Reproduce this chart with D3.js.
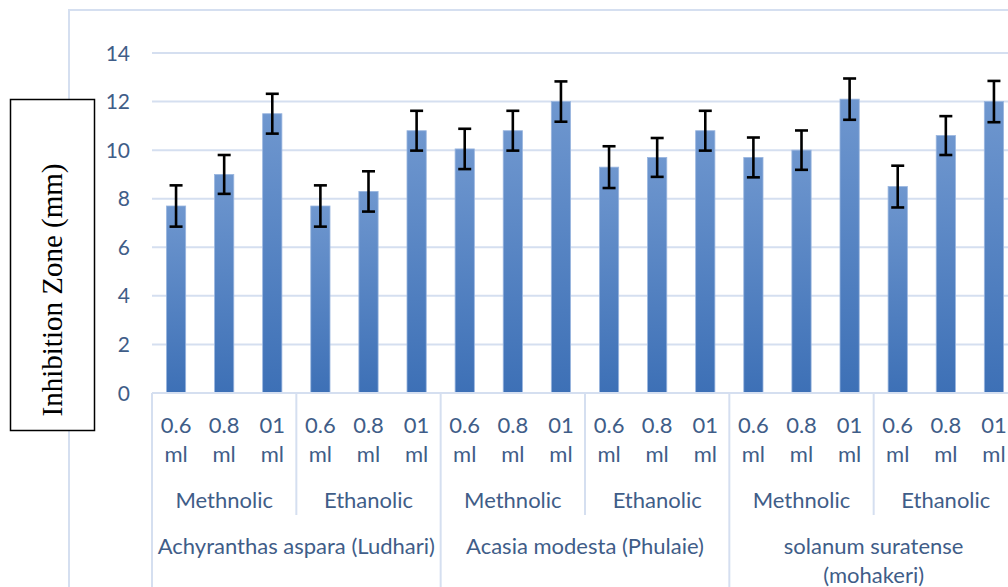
<!DOCTYPE html>
<html>
<head>
    <meta charset="utf-8">
    <title>Inhibition Zone</title>
    <script src="https://d3js.org/d3.v7.min.js"></script>
    <style>
        body {
            margin: 0;
            background: #ffffff;
            overflow: hidden;
        }
        .lbl {
            font-family: Lato, "Open Sans", sans-serif;
            fill: #3f5d88;
        }
    </style>
</head>
<body>
<div id="chart"></div>
<script>
    // data
    var plants = ["Achyranthas aspara (Ludhari)", "Acasia modesta (Phulaie)", "solanum suratense (mohakeri)"];
    var extracts = ["Methnolic", "Ethanolic"];
    var doses = ["0.6 ml", "0.8 ml", "01 ml"];
    var values = [7.7, 9.0, 11.5, 7.7, 8.3, 10.8,
                  10.05, 10.8, 12.0, 9.3, 9.7, 10.8,
                  9.7, 10.0, 12.1, 8.5, 10.6, 12.0];
    var errors = [0.85, 0.8, 0.82, 0.85, 0.83, 0.82,
                  0.83, 0.82, 0.83, 0.86, 0.8, 0.82,
                  0.82, 0.81, 0.85, 0.86, 0.8, 0.85];
    var yTicks = [0, 2, 4, 6, 8, 10, 12, 14];

    var W = 1008, H = 587;
    // plot area runs past the right edge of the picture (the reference is cropped)
    var plotLeft = 152, plotRight = 1018, plotTop = 53, plotBase = 393;
    var fs = "22px";

    // build the rows: plant > extract > dose
    var rows = [];
    plants.forEach(function (p, i) {
        extracts.forEach(function (e, j) {
            doses.forEach(function (d, k) {
                var n = i * 6 + j * 3 + k;
                rows.push({ id: n, plant: p, extract: e, dose: d, value: values[n], err: errors[n] });
            });
        });
    });

    var svg = d3.select("#chart").append("svg")
        .attr("width", W)
        .attr("height", H);

    var defs = svg.append("defs");
    var grad = defs.append("linearGradient")
        .attr("id", "barGrad")
        .attr("x1", 0).attr("y1", 0).attr("x2", 0).attr("y2", 1);
    grad.append("stop").attr("offset", "0%").attr("stop-color", "#6f97cf");
    grad.append("stop").attr("offset", "100%").attr("stop-color", "#3d70b6");

    var x = d3.scaleBand()
        .domain(rows.map(function (d) { return d.id; }))
        .range([plotLeft, plotRight])
        .paddingInner(0.6)
        .paddingOuter(0.3);
    var step = x.step();

    var y = d3.scaleLinear().domain([0, 14]).range([plotBase, plotTop]);

    var lineCol = "#d5dff0";

    // chart area border
    svg.append("rect")
        .attr("x", 69).attr("y", 10)
        .attr("width", 1200).attr("height", 800)
        .attr("fill", "none")
        .attr("stroke", lineCol)
        .attr("stroke-width", 2);

    // gridlines
    svg.append("g")
        .selectAll("line")
        .data(yTicks.filter(function (t) { return t > 0; }))
        .enter().append("line")
        .attr("x1", plotLeft).attr("x2", plotRight)
        .attr("y1", function (d) { return y(d); })
        .attr("y2", function (d) { return y(d); })
        .attr("stroke", lineCol)
        .attr("stroke-width", 2);

    // y axis tick labels
    svg.append("g")
        .selectAll("text")
        .data(yTicks)
        .enter().append("text")
        .attr("class", "lbl")
        .attr("x", 130)
        .attr("y", function (d) { return y(d) + 7.5; })
        .attr("text-anchor", "end")
        .style("font-size", "21px")
        .text(function (d) { return d; });

    // bars
    svg.append("g")
        .selectAll("rect")
        .data(rows)
        .enter().append("rect")
        .attr("x", function (d) { return x(d.id); })
        .attr("width", x.bandwidth())
        .attr("y", function (d) { return y(d.value); })
        .attr("height", function (d) { return plotBase - y(d.value); })
        .attr("fill", "url(#barGrad)")
        .attr("stroke", "#9ab6df")
        .attr("stroke-width", 0.8);

    // error bars
    var eb = svg.append("g")
        .selectAll("g")
        .data(rows)
        .enter().append("g")
        .attr("stroke", "#000")
        .attr("stroke-width", 2.6);
    function cx(d) { return x(d.id) + x.bandwidth() / 2; }
    eb.append("line")
        .attr("x1", cx).attr("x2", cx)
        .attr("y1", function (d) { return y(d.value + d.err); })
        .attr("y2", function (d) { return y(d.value - d.err); });
    eb.append("line")
        .attr("x1", function (d) { return cx(d) - 6.5; })
        .attr("x2", function (d) { return cx(d) + 6.5; })
        .attr("y1", function (d) { return y(d.value + d.err); })
        .attr("y2", function (d) { return y(d.value + d.err); });
    eb.append("line")
        .attr("x1", function (d) { return cx(d) - 6.5; })
        .attr("x2", function (d) { return cx(d) + 6.5; })
        .attr("y1", function (d) { return y(d.value - d.err); })
        .attr("y2", function (d) { return y(d.value - d.err); });

    // category axis
    var axisG = svg.append("g");
    axisG.append("line")
        .attr("x1", plotLeft).attr("x2", plotRight)
        .attr("y1", plotBase).attr("y2", plotBase)
        .attr("stroke", lineCol).attr("stroke-width", 2);

    // extract separators (short) and plant separators (full height)
    var extractEdges = d3.range(0, plants.length * extracts.length + 1).map(function (i) {
        return { pos: plotLeft + i * 3 * step, plant: i % 2 === 0 };
    });
    axisG.selectAll("line.sep")
        .data(extractEdges)
        .enter().append("line")
        .attr("class", "sep")
        .attr("x1", function (d) { return d.pos; })
        .attr("x2", function (d) { return d.pos; })
        .attr("y1", plotBase)
        .attr("y2", function (d) { return d.plant ? H + 5 : 515; })
        .attr("stroke", lineCol).attr("stroke-width", 2);

    // dose labels (wrapped on two lines)
    var doseT = axisG.selectAll("text.dose")
        .data(rows)
        .enter().append("text")
        .attr("class", "lbl dose")
        .attr("text-anchor", "middle")
        .style("font-size", fs);
    doseT.each(function (d) {
        var parts = d.dose.split(" ");
        var t = d3.select(this);
        parts.forEach(function (p, i) {
            t.append("tspan")
                .attr("x", cx(d))
                .attr("y", 433 + i * 28.5)
                .text(p);
        });
    });

    // extract labels
    var extractRows = [];
    plants.forEach(function (p, i) {
        extracts.forEach(function (e, j) {
            extractRows.push({ name: e, mid: plotLeft + (i * 2 + j + 0.5) * 3 * step });
        });
    });
    axisG.selectAll("text.ext")
        .data(extractRows)
        .enter().append("text")
        .attr("class", "lbl ext")
        .attr("text-anchor", "middle")
        .attr("x", function (d) { return d.mid; })
        .attr("y", 508)
        .style("font-size", fs)
        .text(function (d) { return d.name; });

    // plant labels, wrapped to the group width
    var plantT = axisG.selectAll("text.plant")
        .data(plants)
        .enter().append("text")
        .attr("class", "lbl plant")
        .attr("text-anchor", "middle")
        .style("font-size", fs);
    plantT.each(function (d, i) {
        var mid = plotLeft + (i + 0.5) * 6 * step;
        var maxW = 6 * step - 4;
        var t = d3.select(this);
        var words = d.split(" ");
        var lines = [];
        var cur = [];
        var probe = t.append("tspan");
        words.forEach(function (w) {
            var test = cur.concat([w]).join(" ");
            probe.text(test);
            if (probe.node().getComputedTextLength() > maxW && cur.length) {
                lines.push(cur.join(" "));
                cur = [w];
            } else {
                cur.push(w);
            }
        });
        lines.push(cur.join(" "));
        probe.remove();
        lines.forEach(function (l, k) {
            t.append("tspan")
                .attr("x", mid)
                .attr("y", 554 + k * 28.5)
                .text(l);
        });
    });

    // y axis title in a box
    svg.append("rect")
        .attr("x", 10.5).attr("y", 99.5)
        .attr("width", 84).attr("height", 331)
        .attr("fill", "#fff")
        .attr("stroke", "#000")
        .attr("stroke-width", 1.5);
    svg.append("text")
        .attr("transform", "translate(62,290) rotate(-90)")
        .attr("text-anchor", "middle")
        .style("font-family", "'Liberation Serif', 'Times New Roman', serif")
        .style("font-size", "29px")
        .style("fill", "#000")
        .text("Inhibition Zone (mm)");
</script>
</body>
</html>
